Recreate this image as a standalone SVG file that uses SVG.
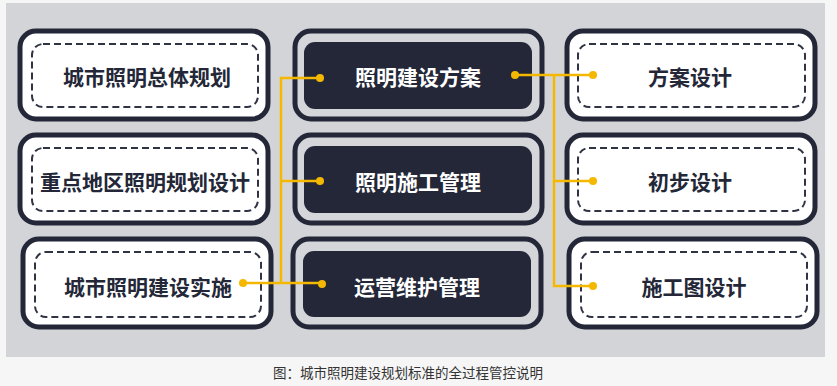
<svg xmlns="http://www.w3.org/2000/svg" width="837" height="386" viewBox="0 0 837 386">
<style>
.outer{fill:#ffffff;stroke:#232738;stroke-width:5}
.outerm{fill:#d5d6da;stroke:#232738;stroke-width:5}
.dash{fill:none;stroke:#2f3344;stroke-width:2;stroke-dasharray:7 4}
.innerm{fill:#232738}
.t{font-family:"Noto Sans CJK SC","Noto Sans",sans-serif;font-size:21px;font-weight:bold;text-anchor:middle;dominant-baseline:central;fill:#232738}
.tw{fill:#ffffff}
.ln{fill:none;stroke:#f5b800;stroke-width:2.5}
.dot{fill:#f5b800}
.cap{font-family:"Noto Sans CJK SC","Noto Sans",sans-serif;font-size:13.5px;fill:#333333}
</style>
<rect x="0" y="0" width="837" height="386" fill="#f6f6f6"/>
<rect x="6" y="3" width="819" height="354" fill="#d3d4d8"/>

<g id="left1"><rect class="outer" x="20" y="31" width="248" height="88" rx="16"/><rect class="dash" x="32" y="44" width="226" height="63" rx="11"/><text class="t" x="147" y="76">城市照明总体规划</text></g>
<g id="left2"><rect class="outer" x="20" y="135" width="248" height="88" rx="16"/><rect class="dash" x="32" y="148" width="226" height="63" rx="11"/><text class="t" x="145" y="181">重点地区照明规划设计</text></g>
<g id="left3"><rect class="outer" x="23" y="239" width="248" height="88" rx="16"/><rect class="dash" x="35" y="252" width="226" height="65" rx="11"/><text class="t" x="148" y="286">城市照明建设实施</text></g>

<g id="mid1"><rect class="outerm" x="295" y="31" width="247" height="88" rx="16"/><rect class="innerm" x="304" y="42" width="228" height="67" rx="11"/><text class="t tw" x="418" y="76">照明建设方案</text></g>
<g id="mid2"><rect class="outerm" x="295" y="135" width="247" height="88" rx="16"/><rect class="innerm" x="304" y="146" width="228" height="67" rx="11"/><text class="t tw" x="418" y="181">照明施工管理</text></g>
<g id="mid3"><rect class="outerm" x="293" y="239" width="248" height="88" rx="16"/><rect class="innerm" x="303" y="251" width="228" height="66" rx="11"/><text class="t tw" x="417" y="286">运营维护管理</text></g>

<g id="right1"><rect class="outer" x="567" y="31" width="248" height="88" rx="16"/><rect class="dash" x="578" y="44" width="227" height="63" rx="11"/><text class="t" x="690" y="76">方案设计</text></g>
<g id="right2"><rect class="outer" x="567" y="135" width="248" height="88" rx="16"/><rect class="dash" x="578" y="148" width="227" height="63" rx="11"/><text class="t" x="690" y="181">初步设计</text></g>
<g id="right3"><rect class="outer" x="569" y="239" width="248" height="88" rx="16"/><rect class="dash" x="581" y="252" width="226" height="65" rx="11"/><text class="t" x="694" y="286">施工图设计</text></g>

<g id="connectors">
<path class="ln" d="M320 78 H281 V283 M281 181 H320 M243 283 H322"/>
<circle class="dot" cx="320" cy="78" r="4"/><circle class="dot" cx="320" cy="181" r="4"/><circle class="dot" cx="322" cy="284" r="4"/><circle class="dot" cx="243" cy="283" r="4"/>
<path class="ln" d="M515 75 H593 M554 75 V286 H593 M554 181 H593"/>
<circle class="dot" cx="515" cy="75" r="4"/><circle class="dot" cx="593" cy="75" r="4"/><circle class="dot" cx="593" cy="181" r="4"/><circle class="dot" cx="593" cy="286" r="4"/>
</g>
<text class="cap" x="273" y="378">图：城市照明建设规划标准的全过程管控说明</text>
</svg>
